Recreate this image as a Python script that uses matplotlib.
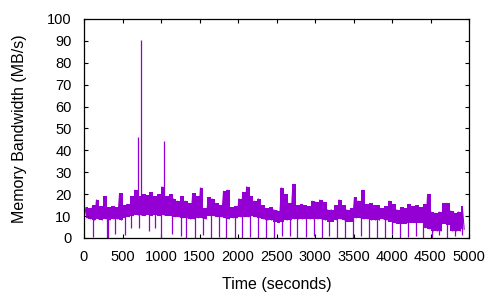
import numpy as np
import matplotlib
matplotlib.use("Agg")
import matplotlib.pyplot as plt

plt.rcParams['font.family'] = ['Liberation Sans', 'DejaVu Sans']

# 50-second bins starting at t=0: upper and lower envelope of the bandwidth trace (MB/s)
bin_width = 50
high = [14, 13.5, 15, 17.5, 14.5, 19, 14, 14.5, 14, 20.5,
        15, 15.5, 19, 22, 19, 20, 19.5, 21, 19, 20,
        23.5, 19, 20, 18, 17, 19, 17, 16, 20.5, 19,
        23, 13.5, 18.5, 18, 16, 15, 21.5, 22, 14, 14.5,
        18, 21, 23.5, 19, 17, 18, 15, 13.5, 14, 13,
        12.5, 23, 20, 16, 24.5, 15, 15.5, 15, 14.5, 17,
        16.5, 17.5, 16.5, 13, 13, 15, 17.5, 15, 13, 13.5,
        18.5, 17, 22, 15.5, 16, 15, 15, 13.5, 14.5, 17,
        15.5, 13, 14, 13.5, 15.5, 14.5, 15, 14, 15.5, 20,
        12, 11.5, 12, 16, 16, 12.5, 11.5, 12, 14.5]
low = [9, 8.5, 8, 8.5, 8, 8.5, 8, 8.5, 8.5, 8,
       9, 9.5, 10, 10.5, 10.5, 10, 10.5, 10, 10.5, 10,
       10.5, 10, 10, 9.5, 9.5, 9, 9, 8.5, 8.5, 9,
       9, 8.5, 10, 10, 9.5, 9.5, 9, 8.5, 9, 9,
       9.5, 9.5, 9.5, 10, 9.5, 9, 8.5, 8, 8, 7.5,
       7, 7.5, 8, 8, 8.5, 8.5, 8.5, 8.5, 8.5, 8.5,
       8.5, 8.5, 8, 7.5, 7.5, 8, 8.5, 8, 7.5, 7.5,
       9, 9, 8.5, 8.5, 8, 8, 8, 8.5, 8, 7.5,
       7, 6.5, 6.5, 6.5, 7, 7, 7, 7, 4.5, 4,
       3, 3, 3, 6.5, 6, 3, 3, 3, 4]

# short drops of the trace: time (s) and value reached (MB/s)
dip_time = [112, 298, 317, 406, 527, 613, 716, 838, 923, 1001, 1140, 1256,
            1330, 1438, 1546, 1654, 1753, 1848, 1956, 2051, 2159, 2258, 2358, 2465,
            2565, 2673, 2772, 2880, 2988, 3087, 3182, 3290, 3390, 3488, 3592, 3700,
            3799, 3903, 3998, 4106, 4206, 4309, 4409, 4516, 4615, 4711, 4819, 4913]
dip_value = [0.5, 0, 0, 2, 1.5, 4.5, 4.5, 3, 4.5, 0, 2, 1,
             0, 0, 1.5, 0, 0.5, 0, 0, 0, 0.5, 0, 0, 0,
             1, 1, 0, 0.5, 1, 0, 1, 0, 0, 0, 1, 0,
             0, 0, 2, 0, 0.5, 1, 0, 0, 1.5, 0, 1, 1.5]

# isolated peaks
spike_time = [704, 742, 1036]
spike_value = [46, 90.5, 44.5]

color = '#9400d3'

fig = plt.figure(figsize=(5, 3), dpi=100)
ax = fig.add_axes([0.168, 0.2067, 0.77, 0.73])

centers = [k * bin_width + bin_width / 2 for k in range(len(high))]
ax.fill_between(centers, low, high, step='mid', color=color, lw=0)

# zig-zag between the envelopes for the jagged edges
xs, ys = [], []
for k, (h, l) in enumerate(zip(high, low)):
    t0 = k * bin_width
    xs += [t0 + 12.5, t0 + 37.5]
    ys += [h, l]
ax.plot(xs, ys, color=color, lw=0.8, solid_joinstyle='miter')

idx = [min(int(t // bin_width), len(low) - 1) for t in dip_time]
ax.vlines(dip_time, dip_value, [low[i] + 2 for i in idx], color=color, lw=0.9)
sidx = [min(int(t // bin_width), len(high) - 1) for t in spike_time]
ax.vlines(spike_time, [low[i] for i in sidx], spike_value, color=color, lw=0.9)

ax.set_xlim(0, 5000)
ax.set_ylim(0, 100)
ax.set_xticks(np.arange(0, 5001, 500))
ax.set_yticks(np.arange(0, 101, 10))
ax.tick_params(direction='in', length=3, width=0.8, top=True, right=True,
               labelsize=10.5, colors='black')
ax.tick_params(axis='y', pad=9)
ax.tick_params(axis='x', pad=9)
for s in ax.spines.values():
    s.set_linewidth(0.9)
ax.set_xlabel('Time (seconds)', fontsize=11.5, labelpad=9)
ax.set_ylabel('Memory Bandwidth (MB/s)', fontsize=11.5, labelpad=14)

fig.savefig('out.png', dpi=100)
